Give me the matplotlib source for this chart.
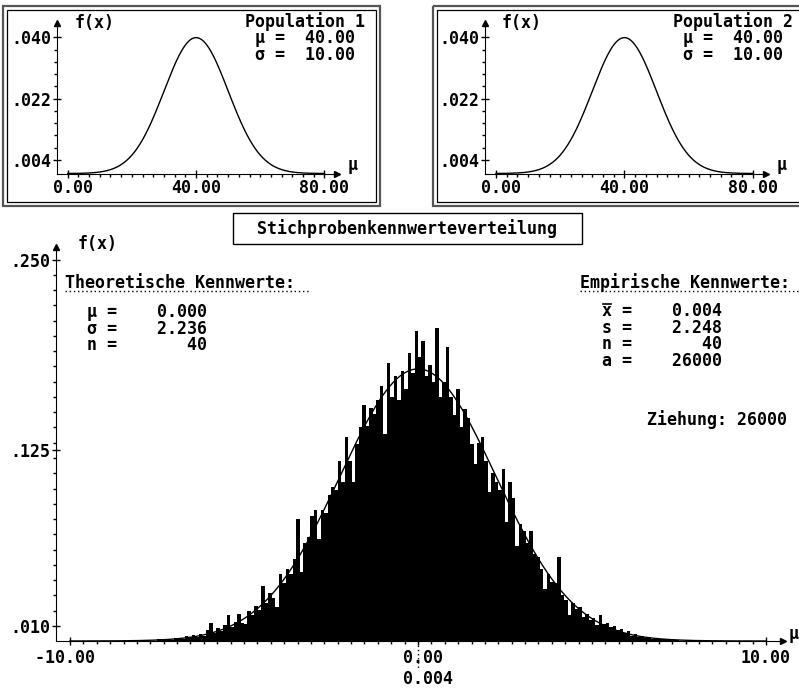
import matplotlib
matplotlib.use("Agg")
import matplotlib.pyplot as plt
from matplotlib.patches import Rectangle
import numpy as np

# --- values ------------------------------------------------------------
pop_labels = ["Population 1", "Population 2"]
pop_mu = [40.00, 40.00]
pop_sigma = [10.00, 10.00]

theo_mu = 0.000
theo_sigma = 2.236
theo_n = 40

emp_mean = 0.004
emp_s = 2.248
emp_n = 40
emp_a = 26000
draws = 26000

# histogram of the sampling distribution (bins of 0.1, density * 1000)
bin_start = -7.5
bin_width = 0.1
density_x1000 = [
    1.3, 1.3, 0.7, 1.3, 0.7, 2.0, 2.0, 1.3, 3.3, 2.6,
    4.0, 2.6, 4.6, 3.3, 7.2, 11.5, 5.2, 8.5, 6.5, 10.5,
    17.0, 9.0, 12.5, 17.5, 12.0, 11.0, 19.5, 17.0, 23.0, 20.5,
    36.0, 25.0, 31.5, 28.0, 22.0, 44.0, 38.0, 47.0, 44.0, 53.5,
    80.0, 45.0, 64.0, 68.0, 82.0, 86.0, 67.0, 86.0, 84.0, 96.0,
    101.0, 99.0, 118.0, 104.0, 134.0, 118.0, 104.0, 129.0, 140.0, 155.0,
    141.0, 153.0, 149.0, 158.0, 167.0, 136.0, 182.0, 160.0, 174.0, 158.0,
    177.0, 165.0, 189.0, 176.0, 203.0,
    186, 197, 174, 181, 170, 205, 160, 170, 193, 160,
    148, 165, 140, 152, 146, 129, 116, 130, 134, 118,
    98, 110, 104, 99, 113, 78, 104, 94, 62, 77,
    72, 64, 72, 57, 55, 47, 34, 44, 39, 38,
    55, 30, 27, 17, 25, 21, 22, 16, 18, 14,
    15, 10.5, 17, 11, 11.5, 9, 10, 7, 8, 5,
    6.5, 3.3, 4.6, 2.6, 3.3, 2.0, 2.6, 1.3, 2.0, 1.3,
    1.3, 0.7, 1.3, 0.7, 0.7,
]

pop_yticks = [0.004, 0.022, 0.040]
pop_ylabels = [".004", ".022", ".040"]
pop_xticks = [0, 40, 80]
pop_xlabels = [" 0.00", "40.00", "80.00"]

main_yticks = [0.010, 0.125, 0.250]
main_ylabels = [".010", ".125", ".250"]
main_xticks = [-10, 0, 10]
main_xlabels = ["-10.00 ", " 0.00", "10.00"]

W, H = 799, 689
FONT = 12
LS = 0.9  # line spacing of the multi-line text blocks

plt.rcParams["font.family"] = ["DejaVu Sans Mono", "DejaVu Sans"]
plt.rcParams["font.weight"] = "bold"
plt.rcParams["font.size"] = FONT


def normal_pdf(x, mu, sigma):
    return np.exp(-0.5 * ((x - mu) / sigma) ** 2) / (sigma * np.sqrt(2 * np.pi))


fig = plt.figure(figsize=(W / 100, H / 100), dpi=100)


def axes_at(box, x0px, xscale, y0px, yscale):
    # box in pixels (left, top, right, bottom); data->pixel: x0px + x*xscale
    l, t, r, b = box
    ax = fig.add_axes([l / W, 1 - b / H, (r - l) / W, (b - t) / H])
    ax.set_xlim((l - x0px) / xscale, (r - x0px) / xscale)
    ax.set_ylim((y0px - b) / yscale, (y0px - t) / yscale)
    ax.patch.set_alpha(0)
    return ax


def dos_axes(ax, yaxis_x, y_top, x_end, yt, yl, ymin, xt, xl, xmin, xpad):
    for s in ("top", "right"):
        ax.spines[s].set_visible(False)
    ax.spines["left"].set_position(("data", yaxis_x))
    ax.spines["bottom"].set_position(("data", 0))
    ax.spines["left"].set_bounds(0, y_top)
    ax.spines["bottom"].set_bounds(yaxis_x, x_end)
    ax.set_yticks(yt, yl)
    ax.set_yticks(ymin, minor=True)
    ax.set_xticks(xt, xl)
    ax.set_xticks(xmin, minor=True)
    ax.tick_params(which="major", direction="inout", length=6, width=1, labelsize=FONT)
    ax.tick_params(which="minor", direction="out", length=2.5, width=1)
    ax.tick_params(axis="y", which="major", pad=1)
    ax.tick_params(axis="x", which="major", pad=xpad)
    ax.plot([yaxis_x], [y_top], marker="^", ms=4, color="black", clip_on=False)
    ax.plot([x_end], [0], marker=">", ms=4, color="black", clip_on=False)


# --- top panels: population densities -----------------------------------
pop_boxes = [(9, 12, 375, 201), (439, 12, 799, 201)]
pop_x0 = [67.7, 496.0]
xs_pop = np.linspace(0, 80, 400)
for box, x0, mu, sigma in zip(pop_boxes, pop_x0, pop_mu, pop_sigma):
    ax = axes_at(box, x0, 3.21, 173.5, 3406)
    ax.plot(xs_pop, normal_pdf(xs_pop, mu, sigma), color="black", lw=1)
    dos_axes(ax, -3.33, 0.0443, 84.0,
             pop_yticks, pop_ylabels, np.arange(0.004, 0.0401, 0.0036),
             pop_xticks, pop_xlabels, np.arange(0, 80.01, 80 / 24), 1)

# --- main panel: sampling distribution ----------------------------------
ax = axes_at((0, 246, 799, 689), 418, 34.8, 641, 1525)
centers = bin_start + bin_width * (np.arange(len(density_x1000)) + 0.5)
ax.bar(centers, np.array(density_x1000) / 1000, width=bin_width,
       color="black", linewidth=0, zorder=2)
xs = np.linspace(-10, 10, 600)
ax.plot(xs, normal_pdf(xs, theo_mu, theo_sigma), color="black", lw=1, zorder=3)
dos_axes(ax, -10.4, 0.2586, 10.5,
         main_yticks, main_ylabels, np.arange(0.01, 0.2501, 0.01),
         main_xticks, main_xlabels, np.arange(-10, 10.01, 10 / 26), 3)
ax.plot([emp_mean, emp_mean], [0, -0.018], color="black", lw=1,
        ls=(0, (1, 2)), clip_on=False, zorder=4)
ax.text(emp_mean, -0.0246, "  " + f"{emp_mean:.3f}", ha="center", va="center")

# --- frames and texts in pixel coordinates -------------------------------
ov = fig.add_axes([0, 0, 1, 1])
ov.set_xlim(0, W)
ov.set_ylim(H, 0)
ov.axis("off")

for (x0, x1) in [(3, 380), (433, 805)]:
    ov.add_patch(Rectangle((x0, 6), x1 - x0, 200, fill=False, ec="#555555", lw=1.6))
    ov.add_patch(Rectangle((x0 + 4, 10), x1 - x0 - 8, 192, fill=False, ec="black", lw=0.9))
ov.add_patch(Rectangle((233, 213), 349, 31, fill=False, ec="black", lw=1))
ov.text(407.5, 228.5, "Stichprobenkennwerteverteilung", ha="center", va="center")

# population annotations (one block each)
for lab, mu, sigma, xl in zip(pop_labels, pop_mu, pop_sigma, [245, 673]):
    block = f"{lab}\n μ =  {mu:5.2f}\n σ =  {sigma:5.2f}"
    ov.text(xl, 38, block, ha="left", va="center", linespacing=LS)

for fx, fy in [(75, 23), (502, 23), (78, 244)]:
    ov.text(fx, fy, "f(x)", ha="left", va="center")
for mx, my in [(348, 165), (777, 165), (789, 634)]:
    ov.text(mx, my, "μ", ha="left", va="center")

# theoretical values
ov.text(65, 283, "Theoretische Kennwerte:", ha="left", va="center")
ov.plot([65, 310], [291, 291], color="black", lw=1, ls=(0, (1, 2)))
theo_block = (f"μ =  {theo_mu:7.3f}\n"
              f"σ =  {theo_sigma:7.3f}\n"
              f"n =  {theo_n:7d}")
ov.text(87, 328.5, theo_block, ha="left", va="center", linespacing=LS)

# empirical values
ov.text(580, 283, "Empirische Kennwerte:", ha="left", va="center")
ov.plot([580, 799], [291, 291], color="black", lw=1, ls=(0, (1, 2)))
emp_block = (f"x =  {emp_mean:7.3f}\n"
             f"s =  {emp_s:7.3f}\n"
             f"n =  {emp_n:7d}\n"
             f"a =  {emp_a:7d}")
ov.text(602, 336, emp_block, ha="left", va="center", linespacing=LS)
ov.plot([603, 611], [304, 304], color="black", lw=1.2)  # bar over x

ov.text(647, 420, f"Ziehung: {draws}", ha="left", va="center")

fig.savefig("out.png", dpi=100)
